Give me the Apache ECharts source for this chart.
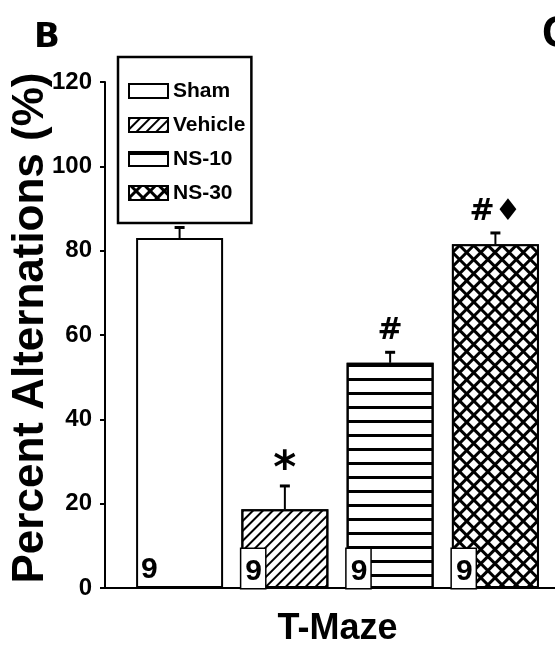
<!DOCTYPE html>
<html><head><meta charset="utf-8">
<script src="https://cdn.jsdelivr.net/npm/echarts@6/dist/echarts.min.js"></script>
<style>html,body{margin:0;padding:0;background:#fff}#c{width:555px;height:653px}</style>
</head><body><div id="c"></div>
<script>
// ---- data ----
const groups = ['Sham', 'Vehicle', 'NS-10', 'NS-30'];
const category = ['T-Maze'];
const means = [83.0, 18.7, 53.4, 81.5];
const sems = [2.5, 5.5, 2.5, 2.7];
const nValues = [9, 9, 9, 9];
const marks = ['', '*', '#', '#\u2666'];
const yMin = 0, yMax = 120, yInterval = 20;
const yTitle = 'Percent Alternations (%)';
const panelLetters = ['B', 'C'];

// ---- style ----
const SANS = '"Liberation Sans",Arial,sans-serif';
const BAR_W = 87, GAP = 0.21;
const fills = ['#fff', '#fff', '#fff', '#000'];
const decals = [
  null,
  { symbol: 'rect', color: '#000', dashArrayX: [1, 0], dashArrayY: [2, 5], rotation: -Math.PI / 4 },
  { symbol: 'rect', color: '#000', dashArrayX: [1, 0], dashArrayY: [3, 11], rotation: 0 },
  { symbol: 'rect', color: '#fff', dashArrayX: [6.5, 2.5], dashArrayY: [6.5, 2.5], rotation: Math.PI / 4 }
];

const chart = echarts.init(document.getElementById('c'), null, { renderer: 'canvas' });

const barSeries = groups.map((g, i) => {
  const itemStyle = { color: fills[i], borderColor: '#000', borderWidth: 2 };
  if (decals[i]) itemStyle.decal = decals[i];
  return {
    type: 'bar', name: g, data: [means[i]], barWidth: BAR_W, barGap: (GAP * 100) + '%',
    itemStyle,
    label: {
      show: true, position: 'insideBottomLeft', distance: 0,
      formatter: String(nValues[i]),
      fontFamily: SANS, fontWeight: 'bold', fontSize: 30, color: '#000',
      backgroundColor: i === 0 ? 'transparent' : '#fff',
      borderColor: i === 0 ? 'transparent' : '#000', borderWidth: 1.5,
      padding: i === 0 ? [7, 4, 3, 5] : [7, 3, 1, 4], lineHeight: 31
    },
    z: 2
  };
});

const errSeries = {
  type: 'custom', name: 'err', z: 5,
  data: groups.map((g, i) => [0, means[i], sems[i], i]),
  renderItem: function (params, api) {
    const i = api.value(3);
    const base = api.coord([api.value(0), api.value(1)]);
    const top = api.coord([api.value(0), api.value(1) + api.value(2)]);
    const x = base[0] + (i - 1.5) * BAR_W * (1 + GAP);
    const mark = marks[params.dataIndex];
    const children = [
      { type: 'line', shape: { x1: x, y1: base[1], x2: x, y2: top[1] }, style: { stroke: '#000', lineWidth: 2 } },
      { type: 'line', shape: { x1: x - 5, y1: top[1], x2: x + 5, y2: top[1] }, style: { stroke: '#000', lineWidth: 3 } }
    ];
    if (mark) {
      const isStar = mark === '*';
      children.push({
        type: 'text', x: x, y: top[1] - (isStar ? -7 : 6),
        style: {
          text: mark, align: 'center', verticalAlign: 'bottom',
          textAlign: 'center', textVerticalAlign: 'bottom',
          fontSize: isStar ? 44 : 30, fontWeight: 'bold', fontFamily: '"DejaVu Sans",' + SANS, fill: '#000'
        }
      });
    }
    return { type: 'group', children };
  }
};

chart.setOption({
  animation: false,
  backgroundColor: '#fff',
  grid: { left: 105, top: 82, width: 465, height: 506, outerBoundsMode: 'none', containLabel: false },
  legend: {
    data: groups, orient: 'vertical', left: 118, top: 57,
    itemWidth: 39, itemHeight: 14, itemGap: 10,
    padding: [22, 6, 18, 10],
    borderColor: '#000', borderWidth: 2.5, backgroundColor: '#fff',
    icon: 'rect',
    textStyle: { fontFamily: SANS, fontWeight: 'bold', fontSize: 21, lineHeight: 24, color: '#000' },
    itemStyle: { borderColor: '#000', borderWidth: 2 }
  },
  xAxis: {
    type: 'category', data: category,
    axisLine: { lineStyle: { color: '#000', width: 2 } },
    axisTick: { show: false },
    axisLabel: { margin: 23, fontFamily: SANS, fontWeight: 'bold', fontSize: 36, color: '#000' }
  },
  yAxis: {
    type: 'value', min: yMin, max: yMax, interval: yInterval,
    name: yTitle, nameLocation: 'middle', nameGap: 52, nameMoveOverlap: false,
    nameTextStyle: { fontFamily: SANS, fontWeight: 'bold', fontSize: 44, color: '#000', padding: [0, 0, 0, 14] },
    axisLine: { show: true, lineStyle: { color: '#000', width: 2 } },
    axisTick: { show: true, length: 5, lineStyle: { color: '#000', width: 2 } },
    axisLabel: { margin: 13, fontFamily: SANS, fontWeight: 'bold', fontSize: 24, color: '#000' },
    splitLine: { show: false }
  },
  graphic: [
    { type: 'text', left: 34, top: 21, style: { text: panelLetters[0], fontFamily: '"DejaVu Sans",' + SANS, fontWeight: 'bold', fontSize: 34, fill: '#000' } },
    { type: 'text', left: 542, top: 13, style: { text: panelLetters[1], fontFamily: SANS, fontWeight: 'bold', fontSize: 44, fill: '#000' } }
  ],
  series: [...barSeries, errSeries]
});
</script></body></html>
